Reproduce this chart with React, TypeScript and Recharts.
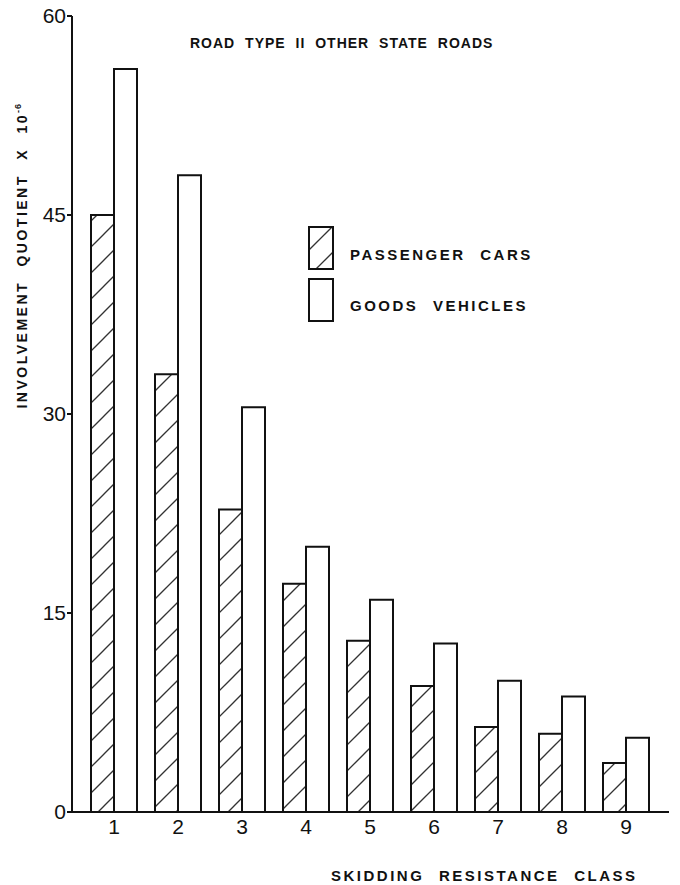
import React from 'react';
import { BarChart, Bar, XAxis, YAxis, Legend, Customized } from 'recharts';

const categories = ['1', '2', '3', '4', '5', '6', '7', '8', '9'];
const passengerCars = [45, 33, 22.8, 17.2, 12.9, 9.5, 6.4, 5.9, 3.7];
const goodsVehicles = [56, 48, 30.5, 20, 16, 12.7, 9.9, 8.7, 5.6];
const yTicks = [0, 15, 30, 45, 60];

const data = categories.map((c, i) => ({
  cls: c,
  passenger: passengerCars[i],
  goods: goodsVehicles[i],
}));

const FONT = '"Liberation Sans", Arial, Helvetica, sans-serif';
const INK = '#111';
const labelStyle: React.CSSProperties = {
  fontFamily: FONT,
  fontWeight: 700,
  fontSize: 14,
  letterSpacing: 2.5,
  wordSpacing: 8,
  fill: INK,
};

const HatchPattern = ({ id }: { id: string }) => (
  <pattern id={id} patternUnits="userSpaceOnUse" width={26} height={26}>
    <rect width={26} height={26} fill="#fff" />
    <line x1={0} y1={26} x2={26} y2={0} stroke="#333" strokeWidth={1.3} />
    <line x1={-2} y1={2} x2={2} y2={-2} stroke="#333" strokeWidth={1.3} />
    <line x1={24} y1={28} x2={28} y2={24} stroke="#333" strokeWidth={1.3} />
  </pattern>
);

const Titles = () => (
  <g>
    <text x={190} y={48} style={{ ...labelStyle, letterSpacing: 1, wordSpacing: 5 }}>
      ROAD TYPE II OTHER STATE ROADS
    </text>
    <text x={331} y={881} style={{ ...labelStyle, fontSize: 15 }}>
      SKIDDING RESISTANCE CLASS
    </text>
    <text
      x={27}
      y={103}
      transform="rotate(-90, 27, 103)"
      textAnchor="end"
      style={labelStyle}
    >
      INVOLVEMENT QUOTIENT X 10
      <tspan dy={-6} style={{ fontSize: 9, letterSpacing: 1 }}>
        -6
      </tspan>
    </text>
  </g>
);

const LegendContent = () => (
  <svg width={260} height={100} style={{ display: 'block', overflow: 'visible' }}>
    <defs>
      <HatchPattern id="hatchLegend" />
    </defs>
    <rect x={1} y={2} width={24} height={42} fill="url(#hatchLegend)" stroke={INK} strokeWidth={2} />
    <rect x={1} y={54} width={24} height={42} fill="#fff" stroke={INK} strokeWidth={2} />
    <text x={42} y={35} style={{ ...labelStyle, fontSize: 15 }}>
      PASSENGER CARS
    </text>
    <text x={42} y={86} style={{ ...labelStyle, fontSize: 15 }}>
      GOODS VEHICLES
    </text>
  </svg>
);

export default function App() {
  return (
    <div style={{ position: 'absolute', left: 0, top: 0, width: 680, height: 885, background: '#fff' }}>
      <BarChart
        width={680}
        height={885}
        data={data}
        margin={{ top: 16, right: 11, left: 0, bottom: 0 }}
        barGap={0}
      >
        <defs>
          <HatchPattern id="hatch" />
        </defs>
        <XAxis
          dataKey="cls"
          tickLine={false}
          axisLine={{ stroke: INK, strokeWidth: 2 }}
          tick={{ fontSize: 21, fill: INK, fontFamily: FONT }}
          tickMargin={1}
          height={73}
          padding={{ left: 10, right: 11 }}
          interval={0}
        />
        <YAxis
          domain={[0, 60]}
          ticks={yTicks}
          width={72}
          tickSize={5}
          tickMargin={1}
          tickLine={{ stroke: INK, strokeWidth: 2 }}
          axisLine={{ stroke: INK, strokeWidth: 2 }}
          tick={{ fontSize: 21, fill: INK, fontFamily: FONT }}
          interval={0}
        />
        <Legend
          layout="vertical"
          align="center"
          verticalAlign="middle"
          wrapperStyle={{ left: 308, top: 225, width: 260, height: 100 }}
          content={LegendContent}
        />
        <Bar
          dataKey="passenger"
          name="PASSENGER CARS"
          fill="url(#hatch)"
          stroke={INK}
          strokeWidth={2}
          barSize={23}
          isAnimationActive={false}
        />
        <Bar
          dataKey="goods"
          name="GOODS VEHICLES"
          fill="#fff"
          stroke={INK}
          strokeWidth={2}
          barSize={23}
          isAnimationActive={false}
        />
        <Customized component={Titles} />
      </BarChart>
    </div>
  );
}
